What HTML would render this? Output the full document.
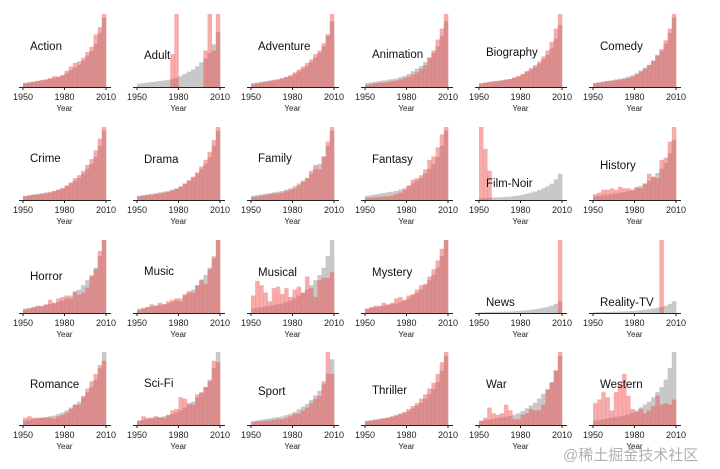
<!DOCTYPE html>
<html><head><meta charset="utf-8"><style>
body{margin:0;background:#fff;width:720px;height:469px;overflow:hidden}
svg{display:block}
.t{font-family:"Liberation Sans","DejaVu Sans",sans-serif}
</style></head><body>
<svg id="c" width="720" height="469"></svg>
<div style="position:absolute;left:563px;top:444px;font:15px 'Liberation Sans','Noto Sans CJK SC',sans-serif;color:rgba(150,150,150,0.75)">@稀土掘金技术社区</div>
<script>
const genres=["Action","Adult","Adventure","Animation","Biography","Comedy","Crime","Drama","Family","Fantasy","Film-Noir","History","Horror","Music","Musical","Mystery","News","Reality-TV","Romance","Sci-Fi","Sport","Thriller","War","Western"];
const labelY=[46,55,46,54,52,46,158,159,158,159,183,165,276,271,272,272,302,302,384,383,391,390,384,384];
const grayBase=[6,7,8,9,10,11,12,13,15,17,20,24,28,32,38,45,52,62,78,100];
const grayScale=[0.95,0.75,0.9,0.9,0.85,0.95,0.95,0.95,0.95,0.95,0.36,0.82,1,1,1,1,0.16,0.16,1,1,0.9,0.95,0.95,1];
const redVals=[
[5,6,7,8,9,10,12,15,14,16,22,28,33,35,40,48,55,72,82,100],
[0,0,0,0,0,0,0,0,45,100,0,0,0,0,0,0,50,100,50,100],
[4,5,6,7,8,9,10,12,14,16,20,24,28,33,38,45,50,60,72,100],
[3,4,5,6,6,7,8,9,10,12,14,17,20,25,30,40,50,65,80,100],
[5,6,7,8,8,9,10,11,13,15,18,22,26,30,35,42,50,62,80,100],
[5,6,7,8,8,9,10,11,12,14,17,21,25,30,36,44,52,64,80,100],
[5,6,7,7,8,9,10,12,14,16,20,24,30,34,40,48,56,68,84,100],
[5,6,7,7,8,9,10,11,13,15,18,22,27,32,38,46,55,66,82,100],
[4,5,6,7,8,9,9,10,12,14,16,20,25,30,40,48,42,60,80,100],
[3,3,4,4,5,5,6,8,10,14,20,28,30,34,42,55,60,72,90,100],
[100,70,40,0,0,0,0,0,0,0,0,0,0,0,0,0,0,0,0,0],
[8,10,14,14,16,14,18,16,16,14,18,16,22,36,32,30,55,58,80,100],
[5,6,8,10,9,12,18,14,20,22,24,20,30,25,28,35,50,60,85,100],
[4,6,8,12,10,14,12,16,18,20,16,26,30,28,38,46,40,60,75,100],
[24,44,38,28,16,34,36,26,34,22,32,36,28,50,34,22,45,48,48,56],
[6,8,10,10,14,12,14,20,22,18,24,26,32,38,40,50,60,72,88,100],
[0,0,0,0,0,0,0,0,0,0,0,0,0,0,0,0,0,0,0,100],
[0,0,0,0,0,0,0,0,0,0,0,0,0,0,0,0,100,0,0,0],
[10,12,10,10,10,10,10,9,12,14,17,22,28,28,40,50,60,70,82,88],
[6,12,10,10,12,10,10,14,20,22,38,36,30,28,42,44,52,60,88,86],
[4,5,5,6,6,7,8,8,10,12,15,16,20,24,30,36,40,60,100,70],
[5,6,7,8,9,10,12,14,16,18,22,26,30,36,42,50,58,70,86,100],
[6,10,24,16,14,16,28,20,8,8,14,16,22,20,20,28,48,58,75,100],
[30,35,45,38,20,45,55,70,40,22,18,22,16,20,26,40,28,30,28,35]];
const ticks=[1950,1980,2010];
const svg=document.getElementById('c');const NS='http://www.w3.org/2000/svg';
function mk(t,a,p){const e=document.createElementNS(NS,t);for(const k in a)e.setAttribute(k,a[k]);p.appendChild(e);return e;}
const H=73;
genres.forEach((g,i)=>{
 const c=i%6,r=Math.floor(i/6);
 const x0=23+c*114, base=87+[0,113,226,338][r];
 const xs=y=>x0+(y-1950)*83/60;
 const ys=v=>base-v/100*H;
 const grp=mk('g',{},svg);
 
 
 grayBase.forEach((v,k)=>{const gv=v*grayScale[i];const b=mk('rect',{x:xs(1950+k*3),y:ys(gv),width:xs(1953)-xs(1950)+0.3,height:base-ys(gv),fill:'#c8c8c8'},grp);
  
  });
 redVals[i].forEach((v,k)=>{if(v<=0)return;const b=mk('rect',{x:xs(1950+k*3),y:ys(v),width:xs(1953)-xs(1950)+0.3,height:base-ys(v),fill:'rgba(240,80,80,0.48)'},grp);
  
  });
 const ax=mk('line',{x1:x0-4,x2:x0+88,y1:base+0.5,y2:base+0.5,stroke:'#222','stroke-width':1},grp);
 
 
 ticks.forEach(t=>{mk('line',{x1:xs(t),x2:xs(t),y1:base,y2:base+3,stroke:'#222'},grp);
  const tl=mk('text',{x:xs(t),y:base+13,'text-anchor':'middle','font-size':9,fill:'#222',class:'t'},grp);tl.textContent=t;
  
  });
 const xt=mk('text',{x:xs(1980),y:base+24,'text-anchor':'middle','font-size':8,fill:'#222',class:'t'},grp);xt.textContent='Year';
 
 
 const lb=mk('text',{x:x0+7,y:labelY[i]+4,'font-size':11.5,fill:'#111',class:'t'},grp);lb.textContent=g;
 
 
});
</script>
</body></html>
